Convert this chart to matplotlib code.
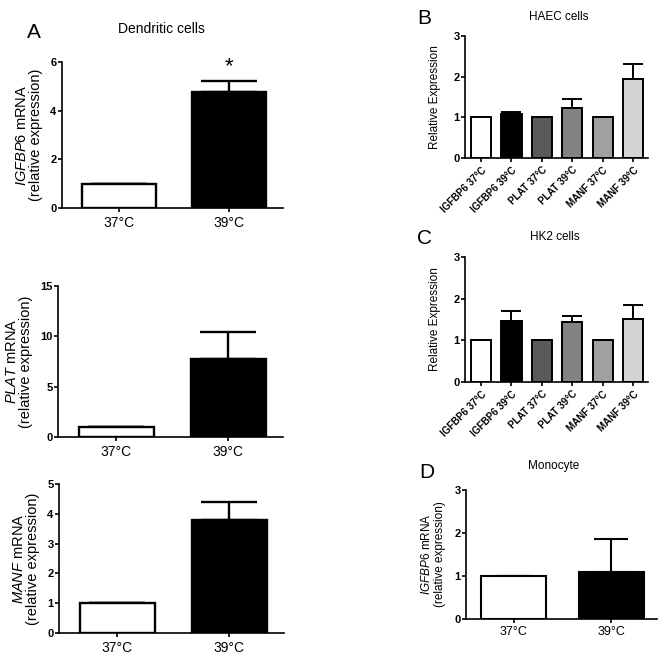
import matplotlib
matplotlib.use("Agg")
import matplotlib.pyplot as plt

plt.rcParams['font.family'] = ['Liberation Sans', 'DejaVu Sans']
plt.rcParams['mathtext.fontset'] = 'custom'
plt.rcParams['mathtext.rm'] = 'Liberation Sans'
plt.rcParams['mathtext.it'] = 'Liberation Sans:italic'

# ---- data ----
temps = ["37°C", "39°C"]
igfbp6_dc = [1.0, 4.75]
igfbp6_dc_err = [0.0, 0.47]
plat_dc = [1.0, 7.7]
plat_dc_err = [0.0, 2.7]
manf_dc = [1.0, 3.78]
manf_dc_err = [0.0, 0.62]

gene_labels = ["IGFBP6 37°C", "IGFBP6 39°C", "PLAT 37°C", "PLAT 39°C", "MANF 37°C", "MANF 39°C"]
haec = [1.0, 1.07, 1.0, 1.23, 1.0, 1.93]
haec_err = [0.0, 0.05, 0.0, 0.22, 0.0, 0.37]
hk2 = [1.0, 1.47, 1.0, 1.45, 1.0, 1.52]
hk2_err = [0.0, 0.23, 0.0, 0.14, 0.0, 0.33]
mono = [1.0, 1.09]
mono_err = [0.0, 0.76]

two_colors = ["white", "black"]
six_colors = ["white", "black", "#5a5a5a", "#838383", "#a0a0a0", "#d4d4d4"]

fig = plt.figure(figsize=(6.62, 6.65), dpi=100)


def style(ax, ylim, yticks, lw=1.2):
    for s in ["top", "right"]:
        ax.spines[s].set_visible(False)
    for s in ["left", "bottom"]:
        ax.spines[s].set_linewidth(lw)
    ax.set_ylim(*ylim)
    ax.set_yticks(yticks)
    ax.tick_params(axis='y', length=3, width=lw, labelsize=8, pad=1)
    for t in ax.get_yticklabels():
        t.set_fontweight('bold')
    ax.tick_params(axis='x', length=3, width=lw)


def panel_a(rect, vals, errs, ylim, yticks, gene):
    ax = fig.add_axes(rect)
    x = list(range(len(vals)))
    ax.bar(x, vals, width=0.67, color=two_colors, edgecolor='black', linewidth=1.7, zorder=2)
    ax.errorbar(x, vals, yerr=[[0, 0], errs], fmt='none', ecolor='black',
                elinewidth=1.7, capsize=20, capthick=1.7, zorder=1)
    ax.set_xlim(-0.52, 1.49)
    style(ax, ylim, yticks)
    ax.set_xticks(x)
    ax.set_xticklabels(temps, fontsize=10)
    ax.tick_params(axis='x', pad=3)
    ax.set_ylabel("$\\it{" + gene + "}$ mRNA\n(relative expression)", fontsize=10.5, labelpad=5,
                  linespacing=1.05)
    return ax


axA1 = panel_a([0.0937, 0.6872, 0.3338, 0.2195], igfbp6_dc, igfbp6_dc_err, (0, 6), [0, 2, 4, 6], "IGFBP6")
axA1.text(1, 5.8, "*", ha='center', va='center', fontsize=16)
axA2 = panel_a([0.0876, 0.3429, 0.3399, 0.2270], plat_dc, plat_dc_err, (0, 15), [0, 5, 10, 15], "PLAT")
axA3 = panel_a([0.0891, 0.0481, 0.3399, 0.2240], manf_dc, manf_dc_err, (0, 5), [0, 1, 2, 3, 4, 5], "MANF")


def panel_bc(rect, vals, errs):
    ax = fig.add_axes(rect)
    x = list(range(len(vals)))
    ax.bar(x, vals, width=0.66, color=six_colors, edgecolor='black', linewidth=1.4, zorder=2)
    ax.errorbar(x, vals, yerr=[[0] * len(vals), errs], fmt='none', ecolor='black',
                elinewidth=1.4, capsize=7.5, capthick=1.4, zorder=1)
    ax.set_xlim(-0.53, 5.49)
    style(ax, (0, 3), [0, 1, 2, 3])
    ax.set_xticks(x)
    ax.set_xticklabels(gene_labels, rotation=45, ha='right', rotation_mode='anchor',
                       fontsize=7, fontweight='bold')
    ax.tick_params(axis='x', pad=2)
    ax.set_ylabel("Relative Expression", fontsize=8.5, labelpad=9)
    return ax


axB = panel_bc([0.7024, 0.7624, 0.2764, 0.1835], haec, haec_err)
axC = panel_bc([0.7024, 0.4256, 0.2764, 0.1880], hk2, hk2_err)

axD = fig.add_axes([0.7040, 0.0692, 0.2885, 0.1940])
xd = list(range(len(mono)))
axD.bar(xd, mono, width=0.67, color=two_colors, edgecolor='black', linewidth=1.5, zorder=2)
axD.errorbar(xd, mono, yerr=[[0, 0], mono_err], fmt='none', ecolor='black',
             elinewidth=1.5, capsize=12, capthick=1.5, zorder=1)
axD.set_xlim(-0.49, 1.47)
style(axD, (0, 3), [0, 1, 2, 3])
axD.set_xticks(xd)
axD.set_xticklabels(temps, fontsize=9)
axD.tick_params(axis='x', pad=2)
axD.set_ylabel("$\\it{IGFBP6}$ mRNA\n(relative expression)", fontsize=8.5, labelpad=6, linespacing=1.05)

# titles and panel letters (pixel positions converted to figure fractions)
W, H = 662.0, 665.0
def ftext(px, py, s, **kw):
    fig.text(px / W, 1 - py / H, s, ha='center', va='center', **kw)

ftext(34, 33, "A", fontsize=15)
ftext(161, 29, "Dendritic cells", fontsize=10)
ftext(424, 18, "B", fontsize=15)
ftext(559, 17, "HAEC cells", fontsize=8.5)
ftext(424, 238, "C", fontsize=15)
ftext(555, 237, "HK2 cells", fontsize=8.5)
ftext(427, 473, "D", fontsize=15)
ftext(554, 466, "Monocyte", fontsize=8.5)

fig.savefig("out.png", dpi=100)
